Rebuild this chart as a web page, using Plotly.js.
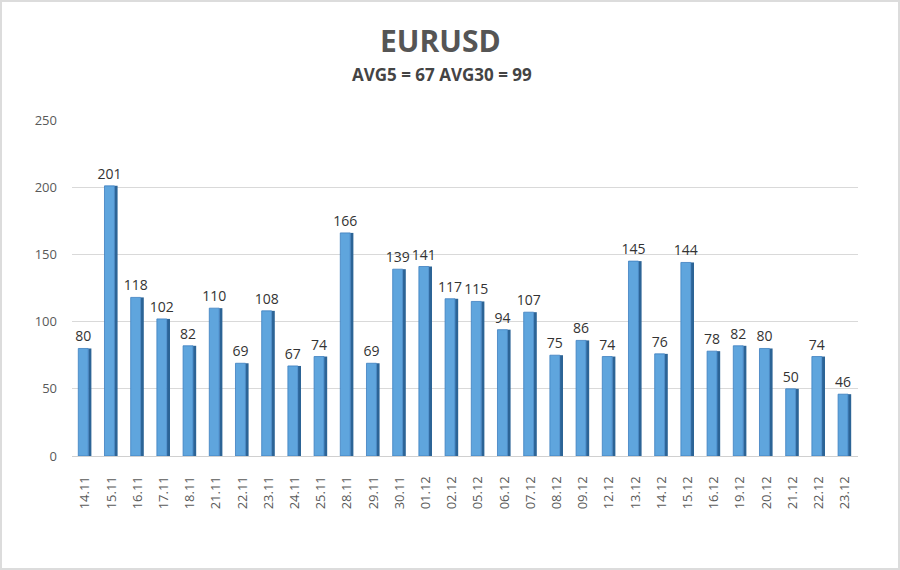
<!DOCTYPE html>
<html>
<head>
<meta charset="utf-8">
<script src="https://cdn.plot.ly/plotly-3.0.1.min.js"></script>
<style>
  html, body { margin: 0; padding: 0; background: #fff; }
  #chart { width: 900px; height: 570px; box-sizing: border-box; border: 2px solid #dcdcdc; }
</style>
</head>
<body>
<div id="chart"></div>
<script>
const dates = ["14.11","15.11","16.11","17.11","18.11","21.11","22.11","23.11","24.11","25.11","28.11","29.11","30.11","01.12","02.12","05.12","06.12","07.12","08.12","09.12","12.12","13.12","14.12","15.12","16.12","19.12","20.12","21.12","22.12","23.12"];
const volatility = [80,201,118,102,82,110,69,108,67,74,166,69,139,141,117,115,94,107,75,86,74,145,76,144,78,82,80,50,74,46];
const yTicks = [0,50,100,150,200,250];
const titleText = 'EURUSD';
const subtitleText = 'AVG5 = 67 AVG30 = 99';

const fontFam = '"Open Sans", "DejaVu Sans", sans-serif';

const sideFace = {
  type: 'bar', x: dates, y: volatility,
  width: 0.12, offset: 0.12,
  marker: { color: '#2c6496', line: { width: 0 } },
  hoverinfo: 'skip', showlegend: false
};
const frontFace = {
  type: 'bar', x: dates, y: volatility,
  width: 0.38, offset: -0.26,
  marker: { color: '#5fa5dd', line: { color: '#3d7fbf', width: 0.8 } },
  text: volatility.map(String), textposition: 'outside', constraintext: 'none',
  textfont: { family: fontFam, size: 14, color: '#333333' },
  cliponaxis: false, showlegend: false
};

const layout = {
  width: 896, height: 566,
  margin: { l: 70, r: 40, t: 118, b: 112 },
  paper_bgcolor: '#ffffff', plot_bgcolor: '#ffffff',
  barmode: 'overlay',
  annotations: [
    { text: '<b>' + titleText + '</b>', xref: 'paper', yref: 'paper', x: 0.469, y: 1.238,
      xanchor: 'center', yanchor: 'middle', showarrow: false,
      font: { family: fontFam, size: 30, color: '#555555' } },
    { text: '<b>' + subtitleText + '</b>', xref: 'paper', yref: 'paper', x: 0.471, y: 1.134,
      xanchor: 'center', yanchor: 'middle', showarrow: false,
      font: { family: fontFam, size: 17, color: '#444444' } }
  ],
  xaxis: {
    type: 'category', tickangle: -90,
    tickfont: { family: fontFam, size: 13, color: '#595959' },
    showgrid: false, showline: true, linecolor: '#d0d0d0', linewidth: 1,
    ticks: '', ticklabelstandoff: 14
  },
  yaxis: {
    range: [0, 250], tickvals: yTicks,
    tickfont: { family: fontFam, size: 13, color: '#595959' },
    showgrid: true, gridcolor: '#d9d9d9', gridwidth: 1,
    zeroline: false, showline: false, ticks: '', ticklabelstandoff: 14
  }
};

Plotly.newPlot('chart', [sideFace, frontFace], layout, { displayModeBar: false, staticPlot: true });
</script>
</body>
</html>
